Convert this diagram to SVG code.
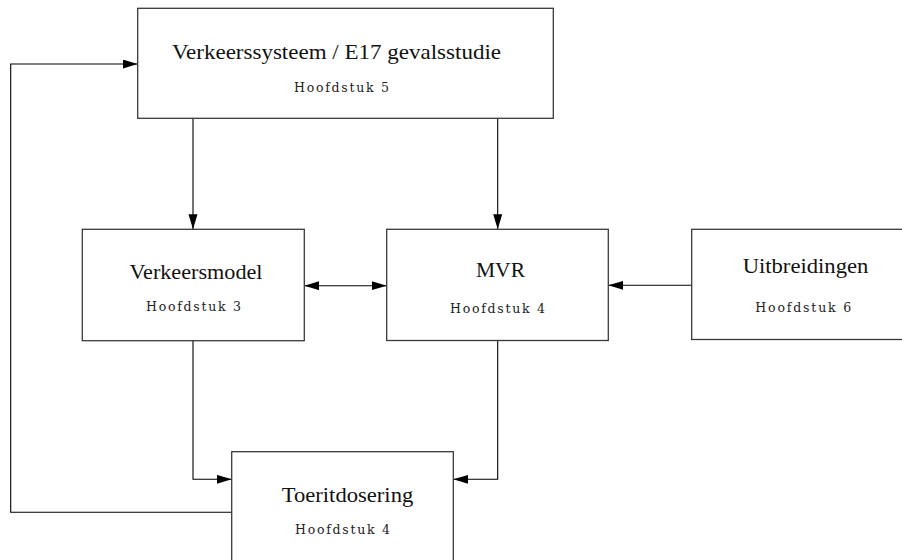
<svg xmlns="http://www.w3.org/2000/svg" width="902" height="560" viewBox="0 0 902 560">
<style>
.box{fill:#fff;stroke:#3a3a3a;stroke-width:1.3}
.con{fill:none;stroke:#000;stroke-width:1.1}
.t{font-family:"Liberation Serif","DejaVu Serif",serif;font-size:21px;fill:#111;text-anchor:middle}
.s{font-family:"DejaVu Serif","Liberation Serif",serif;font-size:12.5px;fill:#222;text-anchor:middle}
</style>
<defs>
<marker id="ah" markerUnits="userSpaceOnUse" markerWidth="16" markerHeight="10" refX="15" refY="4.5" orient="auto-start-reverse">
<path d="M0,0 L15,4.5 L0,9 Z" fill="#000"/>
</marker>
</defs>
<rect width="902" height="560" fill="#fff"/>
<g id="connectors">
<path class="con" d="M231.7,512.3 H10.7 V64 H137.7" marker-end="url(#ah)"/>
<path class="con" d="M193,118.3 V229.3" marker-end="url(#ah)"/>
<path class="con" d="M497.7,118.3 V229.3" marker-end="url(#ah)"/>
<path class="con" d="M304.3,285.7 H386.7" marker-start="url(#ah)" marker-end="url(#ah)"/>
<path class="con" d="M691.7,285.3 H608.3" marker-end="url(#ah)"/>
<path class="con" d="M193,340.7 V479.3 H231.7" marker-end="url(#ah)"/>
<path class="con" d="M497.7,340.5 V479.3 H453.3" marker-end="url(#ah)"/>
</g>
<g id="verkeerssysteem">
<rect class="box" x="137.7" y="8.3" width="415.6" height="110"/>
<text class="t" x="336.5" y="59.3" textLength="329" lengthAdjust="spacingAndGlyphs">Verkeerssysteem / E17 gevalsstudie</text>
<text class="s" x="341.5" y="91.7" textLength="95" lengthAdjust="spacing">Hoofdstuk 5</text>
</g>
<g id="verkeersmodel">
<rect class="box" x="82.3" y="229.3" width="222" height="111.4"/>
<text class="t" x="196" y="279.3" textLength="133" lengthAdjust="spacingAndGlyphs">Verkeersmodel</text>
<text class="s" x="193.5" y="311" textLength="95" lengthAdjust="spacing">Hoofdstuk 3</text>
</g>
<g id="mvr">
<rect class="box" x="386.7" y="229.3" width="221.6" height="111.2"/>
<text class="t" x="500.5" y="277.3" textLength="49" lengthAdjust="spacingAndGlyphs">MVR</text>
<text class="s" x="497.5" y="312.7" textLength="95" lengthAdjust="spacing">Hoofdstuk 4</text>
</g>
<g id="uitbreidingen">
<rect class="box" x="691.7" y="229.3" width="224" height="110.2"/>
<text class="t" x="805.5" y="273.3" textLength="125.7" lengthAdjust="spacingAndGlyphs">Uitbreidingen</text>
<text class="s" x="803.3" y="312.3" textLength="96" lengthAdjust="spacing">Hoofdstuk 6</text>
</g>
<g id="toeritdosering">
<rect class="box" x="231.7" y="451.7" width="221.6" height="115"/>
<text class="t" x="347.5" y="501.7" textLength="131.5" lengthAdjust="spacingAndGlyphs">Toeritdosering</text>
<text class="s" x="342.5" y="534" textLength="95" lengthAdjust="spacing">Hoofdstuk 4</text>
</g>
</svg>
